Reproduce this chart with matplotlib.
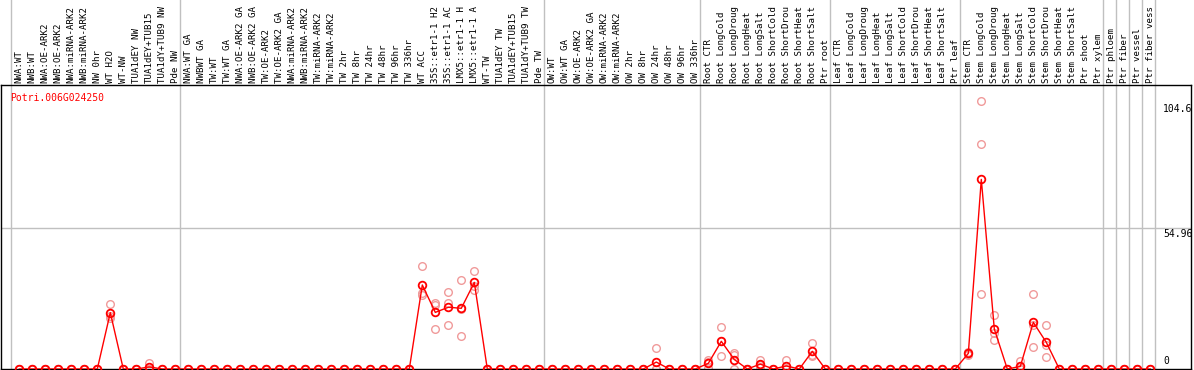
import matplotlib.pyplot as plt
from matplotlib import transforms

gene_id = "Potri.006G024250"

samples = [
    "NWA:WT", "NWB:WT", "NWA:OE-ARK2", "NWB:OE-ARK2", "NWA:miRNA-ARK2",
    "NWB:miRNA-ARK2", "NW 0hr", "WT H2O", "WT-NW", "TUA1dEY NW",
    "TUA1dEY+TUB15", "TUA1dY+TUB9 NW", "Pde NW",
    "NWA:WT GA", "NWBWT GA", "TW:WT", "TW:WT GA", "NWA:OE-ARK2 GA",
    "NWB:OE-ARK2 GA", "TW:OE-ARK2", "TW:OE-ARK2 GA", "NWA:miRNA-ARK2",
    "NWB:miRNA-ARK2", "TW:miRNA-ARK2", "TW:miRNA-ARK2", "TW 2hr", "TW 8hr",
    "TW 24hr", "TW 48hr", "TW 96hr", "TW 336hr", "WT ACC", "35S::etr1-1 H2",
    "35S::etr1-1 AC", "LMX5::etr1-1 H", "LMX5::etr1-1 A", "WT-TW",
    "TUA1dEY TW", "TUA1dEY+TUB15", "TUA1dY+TUB9 TW", "Pde TW",
    "OW:WT", "OW:WT GA", "OW:OE-ARK2", "OW:OE-ARK2 GA", "OW:miRNA-ARK2",
    "OW:miRNA-ARK2", "OW 2hr", "OW 8hr", "OW 24hr", "OW 48hr", "OW 96hr",
    "OW 336hr",
    "Root CTR", "Root LongCold", "Root LongDroug", "Root LongHeat",
    "Root LongSalt", "Root ShortCold", "Root ShortDrou", "Root ShortHeat",
    "Root ShortSalt", "Ptr root",
    "Leaf CTR", "Leaf LongCold", "Leaf LongDroug", "Leaf LongHeat",
    "Leaf LongSalt", "Leaf ShortCold", "Leaf ShortDrou", "Leaf ShortHeat",
    "Leaf ShortSalt", "Ptr leaf",
    "Stem CTR", "Stem LongCold", "Stem LongDroug", "Stem LongHeat",
    "Stem LongSalt", "Stem ShortCold", "Stem ShortDrou", "Stem ShortHeat",
    "Stem ShortSalt", "Ptr shoot", "Ptr xylem",
    "Ptr phloem", "Ptr fiber", "Ptr vessel", "Ptr fiber vess",
]

# first sample index of each group (last entry = end)
group_starts = [0, 13, 41, 53, 63, 73, 84, 85, 86, 87, 88]

mean_expr = ([0, 0, 0, 0, 0, 0, 0, 22.0, 0, 0, 0.8, 0, 0]
             + [0] * 18 + [32.8, 22.1, 24.1, 23.7, 33.8] + [0] * 5
             + [0] * 8 + [2.7, 0, 0, 0]
             + [2.2, 10.8, 3.7, 0, 1.9, 0, 1.2, 0, 6.9, 0]
             + [0] * 10
             + [6.1, 74.0, 15.6, 0, 1.0, 18.2, 10.4, 0, 0, 0, 0]
             + [0] * 4)

rep1 = ([0, 0, 0, 0, 0, 0, 0, 25.4, 0, 0, 2.2, 0, 0]
        + [0] * 18 + [40.2, 25.9, 30.1, 34.6, 38.1] + [0] * 5
        + [0] * 8 + [8.1, 0, 0, 0]
        + [3.5, 16.3, 6.1, 0, 3.5, 0, 3.5, 0, 10.3, 0]
        + [0] * 10
        + [6.8, 104.6, 21.0, 0, 3.1, 29.2, 17.0, 0, 0, 0, 0]
        + [0] * 4)

rep2 = ([0, 0, 0, 0, 0, 0, 0, 20.6, 0, 0, 0.1, 0, 0]
        + [0] * 18 + [29.5, 24.9, 25.9, 23.6, 32.5] + [0] * 5
        + [0] * 12
        + [2.7, 11.0, 5.6, 0, 1.5, 0, 0, 0, 5.3, 0]
        + [0] * 10
        + [6.0, 87.7, 13.9, 0, 0, 17.0, 9.4, 0, 0, 0, 0]
        + [0] * 4)

rep3 = ([0, 0, 0, 0, 0, 0, 0, 19.8, 0, 0, 0.1, 0, 0]
        + [0] * 18 + [28.7, 15.5, 17.2, 12.9, 30.8] + [0] * 5
        + [0] * 12
        + [0.4, 5.1, 0, 0, 0.8, 0, 0, 0, 5.1, 0]
        + [0] * 10
        + [5.5, 29.2, 11.3, 0, 0, 8.5, 4.7, 0, 0, 0, 0]
        + [0] * 4)

y_marks = [0, 54.96, 104.6]

W, H = 1194, 370
plt.rcParams['font.family'] = 'DejaVu Sans Mono'
fig = plt.figure(figsize=(W / 100, H / 100), dpi=100)
ax = fig.add_axes([1 / W, 1 / H, 1190 / W, 284 / H])

x = list(range(len(samples)))
ax.set_xlim(-1.408, 90.13)
ax.set_ylim(0, 110.85)
ax.set_xticks([])
ax.set_yticks([])
for s in ax.spines.values():
    s.set_linewidth(1.0)
    s.set_color('black')

# group separators, running up through the label area
for b in group_starts:
    ax.axvline(b - 0.62, ymin=0, ymax=369 / 284, color='#c0c0c0',
               lw=1.0, clip_on=False, zorder=0)
ax.axhline(y_marks[1], color='#c0c0c0', lw=1.0, zorder=0)

for rep in (rep1, rep2, rep3):
    ax.plot(x, rep, 'o', mfc='none', mec='#f09a9a', ms=5.5, mew=1.0, zorder=2)
ax.plot(x, mean_expr, '-', color='red', lw=1.0, marker='o', mfc='none',
        mec='red', ms=5.5, mew=1.3, zorder=3)

trans = transforms.blended_transform_factory(ax.transData, ax.transAxes)
for i, lab in enumerate(samples):
    ax.text(i, 1 + 2 / 284, lab, rotation=90, ha='center', va='bottom',
            fontsize=6.6, transform=trans, clip_on=False)

# value labels on the right
ax.text(87.98, y_marks[2] - 1.0, "104.6", ha='left', va='top', fontsize=7)
ax.text(87.98, y_marks[1] - 0.4, "54.96", ha='left', va='top', fontsize=7)
ax.text(87.98, 1.2, "0", ha='left', va='bottom', fontsize=7)

fig.text(10 / W, 1 - 98 / H, gene_id, color='red', ha='left', va='center',
         fontsize=7)

fig.savefig('out.png', dpi=100)
